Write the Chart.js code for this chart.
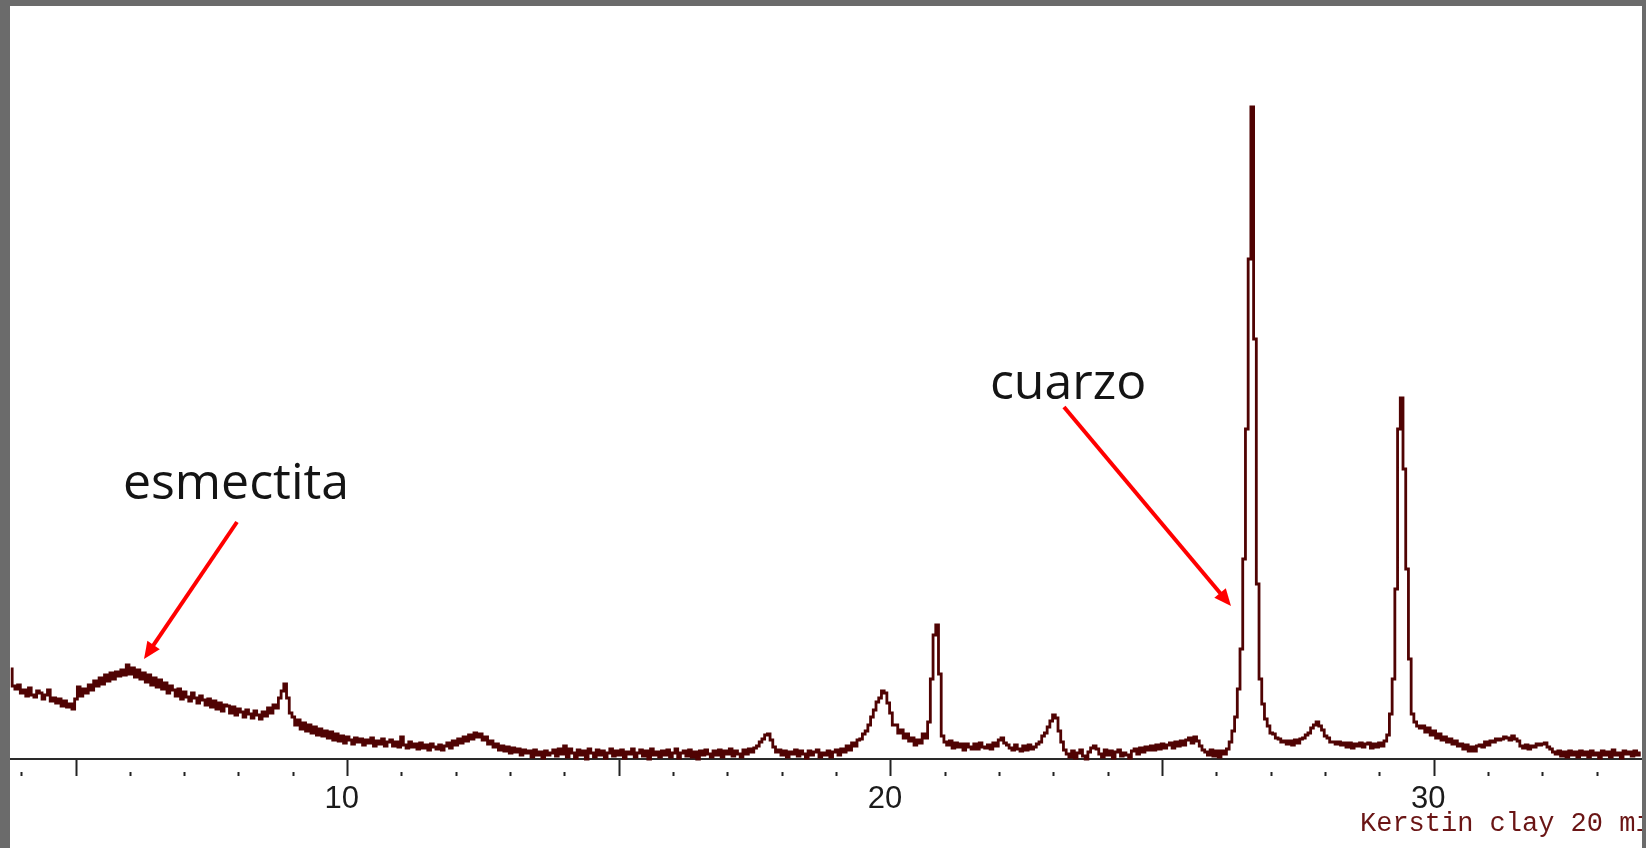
<!DOCTYPE html>
<html>
<head>
<meta charset="utf-8">
<title>Kerstin clay 20 min</title>
<script src="https://cdn.jsdelivr.net/npm/chart.js@4.4.1/dist/chart.umd.min.js"></script>
<style>
  html, body { margin: 0; padding: 0; width: 1646px; height: 848px; overflow: hidden; background: #6b6b6b; }
  #frame { position: absolute; left: 10px; top: 6px; width: 1632px; height: 842px; background: #ffffff; overflow: hidden; }
  canvas { display: block; }
</style>
</head>
<body>
<div id="frame"><canvas id="xrd" width="1632" height="842"></canvas></div>
<script>
// Diffractogram, step scan in °2θ (0.05° steps), intensity in counts
const scanStep = 0.05;

// 3.80 – 13.75 °2θ
const countsLowStart = 3.80;
const countsLow = [
  90, 73, 70, 74, 66, 69, 63, 71, 64, 62, 68, 66, 60, 64, 69, 58, 61, 56, 60, 53,
  58, 52, 55, 50, 60, 72, 63, 70, 66, 74, 69, 78, 73, 81, 75, 84, 78, 86, 80, 87,
  83, 89, 84, 94, 85, 91, 82, 89, 80, 86, 77, 84, 74, 81, 72, 79, 70, 76, 66, 73,
  69, 63, 70, 60, 67, 62, 58, 66, 61, 56, 63, 59, 54, 60, 52, 58, 50, 56, 48, 54,
  53, 46, 52, 44, 50, 47, 42, 49, 45, 41, 48, 44, 40, 47, 43, 51, 46, 54, 51, 61,
  68, 75, 61, 46, 42, 34, 39, 30, 36, 28, 34, 26, 32, 24, 30, 23, 28, 21, 27, 19,
  25, 18, 23, 16, 22, 19, 15, 21, 17, 20, 14, 19, 16, 21, 13, 18, 15, 20, 13, 17,
  19, 13, 17, 12, 22, 14, 11, 17, 12, 15, 10, 16, 11, 14, 9, 15, 12, 10, 14, 9,
  13, 16, 11, 18, 14, 20, 16, 22, 18, 24, 20, 26, 22, 25, 19, 22, 15, 18, 12, 15,
  9, 13, 8, 12, 6, 11, 7, 10, 4, 9, 6, 8, 2, 9, 4, 7, 1, 8, 4, 6
];

// 13.80 – 23.75 °2θ
const countsMidStart = 13.80;
const countsMid = [
  9, 3, 10, 5, 13, 2, 10, 6, 1, 9, 4, 8, 0, 10, 6, 2, 9, 4, 8, 1,
  6, 10, 3, 8, 4, 9, 1, 7, 5, 10, 2, 6, 9, 3, 8, 0, 10, 4, 7, 2,
  8, 4, 9, 2, 6, 10, 1, 6, 8, 3, 9, 2, 7, 0, 8, 4, 9, 5, 2, 8,
  4, 9, 2, 8, 5, 10, 3, 8, 5, 2, 9, 5, 10, 7, 11, 13, 17, 20, 24, 25,
  19, 12, 7, 9, 4, 8, 2, 7, 5, 9, 3, 8, 5, 1, 8, 4, 7, 9, 2, 6,
  4, 8, 2, 7, 9, 4, 10, 7, 13, 9, 16, 13, 19, 20, 25, 28, 34, 42, 49, 57,
  61, 68, 66, 56, 46, 34, 34, 26, 29, 21, 25, 18, 21, 14, 19, 16, 25, 21, 37, 80,
  124, 134, 85, 23, 17, 14, 18, 11, 16, 12, 15, 9, 15, 12, 10, 15, 10, 16, 12, 11,
  14, 10, 16, 13, 19, 21, 16, 14, 11, 9, 14, 10, 8, 13, 9, 14, 10, 12, 15, 17,
  23, 26, 32, 38, 44, 41, 28, 17, 9, 5, 2, 8, 1, 6, 9, 3, 0, 7, 11, 13
];

// 23.80 – 33.80 °2θ
const countsHighStart = 23.80;
const countsHigh = [
  10, 5, 2, 9, 4, 8, 1, 7, 9, 3, 6, 4, 1, 8, 10, 5, 11, 7, 12, 9,
  13, 9, 14, 10, 15, 11, 14, 16, 11, 17, 13, 18, 14, 19, 21, 16, 22, 18, 13, 9,
  7, 4, 9, 3, 8, 2, 8, 5, 10, 17, 28, 42, 70, 110, 200, 330, 500, 652, 420, 175,
  80, 55, 40, 33, 26, 25, 21, 20, 17, 18, 15, 18, 14, 19, 16, 20, 21, 24, 26, 31,
  34, 37, 33, 29, 23, 21, 17, 17, 15, 17, 14, 16, 12, 16, 11, 15, 13, 16, 12, 15,
  16, 11, 15, 12, 16, 13, 18, 24, 45, 80, 170, 330, 361, 290, 190, 100, 45, 37, 33, 31,
  33, 27, 31, 24, 28, 21, 25, 19, 22, 17, 20, 15, 18, 13, 15, 10, 14, 8, 12, 8,
  13, 14, 12, 17, 14, 18, 17, 20, 19, 20, 22, 21, 19, 23, 20, 18, 13, 11, 14, 10,
  13, 12, 15, 14, 15, 16, 12, 10, 7, 5, 8, 3, 7, 2, 8, 4, 7, 2, 8, 4,
  7, 2, 8, 4, 6, 1, 8, 4, 7, 2, 9, 4, 6, 1, 8, 5, 7, 3, 8, 4, 6
];

// Axis range and labelled angles
const angleMin = 3.785;
const angleMax = 33.824;
const countsMax = 753;
const labelledAngles = [10, 20, 30];

// Phase annotations: label anchor and arrow (°2θ, counts)
const phaseNames = ['esmectita', 'cuarzo'];
const phaseLabelAt = [[7.945, 260], [23.26, 360]];
const arrowFrom = [[7.963, 237], [23.185, 352]];
const arrowTo = [[6.252, 100], [26.259, 153]];

const sampleName = 'Kerstin clay 20 min';

function segmentPoints(start, counts) {
  return counts.map((c, i) => ({ x: +(start + i * scanStep).toFixed(2), y: c }));
}

const points = [
  ...segmentPoints(countsLowStart, countsLow),
  ...segmentPoints(countsMidStart, countsMid),
  ...segmentPoints(countsHighStart, countsHigh)
];

const overlay = {
  id: 'overlay',
  afterDraw(chart) {
    const { ctx } = chart;
    const xs = chart.scales.x, ys = chart.scales.y;
    ctx.save();

    // red arrows pointing at the reflections
    ctx.strokeStyle = '#ff0000';
    ctx.fillStyle = '#ff0000';
    ctx.lineWidth = 4;
    ctx.lineCap = 'butt';
    arrowFrom.forEach((from, k) => {
      const x0 = xs.getPixelForValue(from[0]), y0 = ys.getPixelForValue(from[1]);
      const x1 = xs.getPixelForValue(arrowTo[k][0]), y1 = ys.getPixelForValue(arrowTo[k][1]);
      const a = Math.atan2(y1 - y0, x1 - x0);
      const head = 17, half = 7.5;
      const bx = x1 - head * Math.cos(a), by = y1 - head * Math.sin(a);
      ctx.beginPath();
      ctx.moveTo(x0, y0);
      ctx.lineTo(bx + 2 * Math.cos(a), by + 2 * Math.sin(a));
      ctx.stroke();
      ctx.beginPath();
      ctx.moveTo(x1, y1);
      ctx.lineTo(bx + half * Math.sin(a), by - half * Math.cos(a));
      ctx.lineTo(bx - half * Math.sin(a), by + half * Math.cos(a));
      ctx.closePath();
      ctx.fill();
    });

    // phase names
    ctx.fillStyle = '#141414';
    ctx.font = '50px "Open Sans", "Noto Sans", sans-serif';
    ctx.textAlign = 'center';
    ctx.textBaseline = 'alphabetic';
    phaseNames.forEach((name, k) => {
      ctx.fillText(name, xs.getPixelForValue(phaseLabelAt[k][0]), ys.getPixelForValue(phaseLabelAt[k][1]));
    });

    // sample name under the angle axis
    ctx.fillStyle = '#6a1515';
    ctx.font = '27px "Liberation Mono", "DejaVu Sans Mono", monospace';
    ctx.textAlign = 'left';
    ctx.fillText(sampleName, xs.getPixelForValue(28.67) - 2, xs.top + 72);

    ctx.restore();
  }
};

function build() {
  new Chart(document.getElementById('xrd'), {
    type: 'line',
    data: {
      datasets: [{
        data: points,
        parsing: false,
        borderColor: '#500303',
        borderWidth: 2.8,
        pointRadius: 0,
        stepped: 'middle',
        fill: false,
        clip: 8
      }]
    },
    options: {
      responsive: false,
      animation: false,
      devicePixelRatio: 1,
      events: [],
      layout: { padding: { left: 0, right: 0, top: 0, bottom: 24.8 } },
      plugins: {
        legend: { display: false },
        tooltip: { enabled: false },
        title: { display: false }
      },
      scales: {
        x: {
          type: 'linear',
          min: angleMin,
          max: angleMax,
          border: { display: true, color: '#2a2a2a', width: 2 },
          grid: {
            display: true,
            drawOnChartArea: false,
            drawTicks: true,
            tickLength: 17,
            tickWidth: 2,
            tickColor: '#222222',
            tickBorderDash: (c) => (c.tick && c.tick.value % 5 === 0) ? [] : [0, 12, 5, 60]
          },
          ticks: {
            stepSize: 1,
            autoSkip: false,
            maxRotation: 0,
            minRotation: 0,
            includeBounds: false,
            padding: 5,
            labelOffset: -6,
            color: '#1b1b1b',
            font: { family: '"Liberation Sans", Arial, sans-serif', size: 31 },
            callback: (v) => labelledAngles.includes(v) ? String(v) : ''
          }
        },
        y: {
          display: false,
          min: 0,
          max: countsMax
        }
      }
    },
    plugins: [overlay]
  });
}

Promise.all([
  document.fonts.load('50px "Open Sans"'),
  document.fonts.load('31px "Liberation Sans"'),
  document.fonts.load('27px "Liberation Mono"')
]).then(build, build);
</script>
</body>
</html>
